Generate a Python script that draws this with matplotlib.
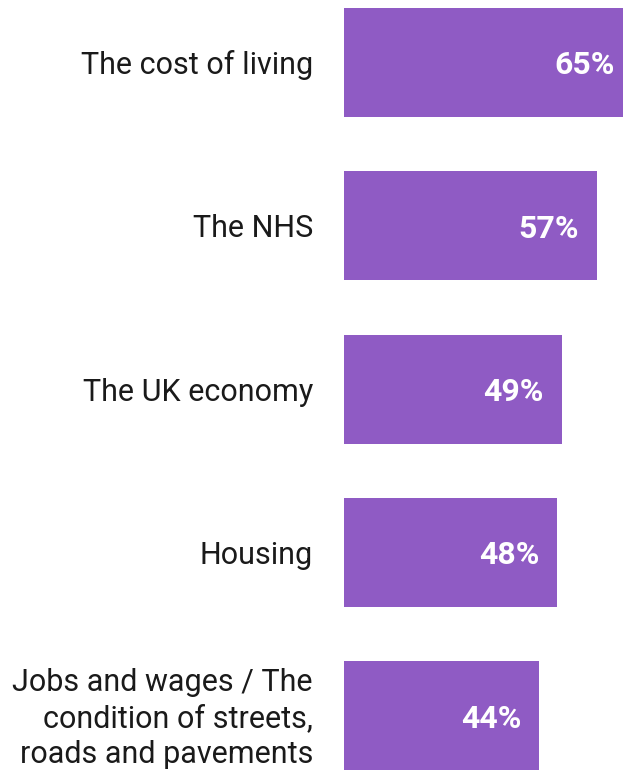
import matplotlib
matplotlib.use("Agg")
import matplotlib.pyplot as plt

categories = ["The cost of living", "The NHS", "The UK economy", "Housing",
              "Jobs and wages / The\ncondition of streets,\nroads and pavements"]
values = [65, 57, 49, 48, 44]
value_labels = ["65%", "57%", "49%", "48%", "44%"]

W, H = 623, 770
fig = plt.figure(figsize=(W / 100, H / 100), dpi=100)
x0 = 344 / W
ax = fig.add_axes([x0, 0, 1 - x0, 1])
px_per_unit = 4.44
ax.set_xlim(0, (W - 344) / px_per_unit)
step = 163.25
ax.set_ylim((770 - 62.5) / step, -62.5 / step)
color = "#8F5BC4"
ys = list(range(len(categories)))
ax.barh(ys, values, height=109 / step, color=color, clip_on=True)
ax.axis("off")
dy = 3 / step
for y, v, lab, cat in zip(ys, values, value_labels, categories):
    ax.text(v - 18 / px_per_unit, y + dy, lab, ha="right", va="center", color="white",
            fontsize=23, fontweight="bold", family="Roboto", clip_on=False)
    ax.text(-31 / px_per_unit, y + dy, cat, ha="right", va="center", color="#1a1a1a",
            fontsize=22, family="Roboto", linespacing=1.3, clip_on=False)
fig.savefig("out.png", dpi=100)
